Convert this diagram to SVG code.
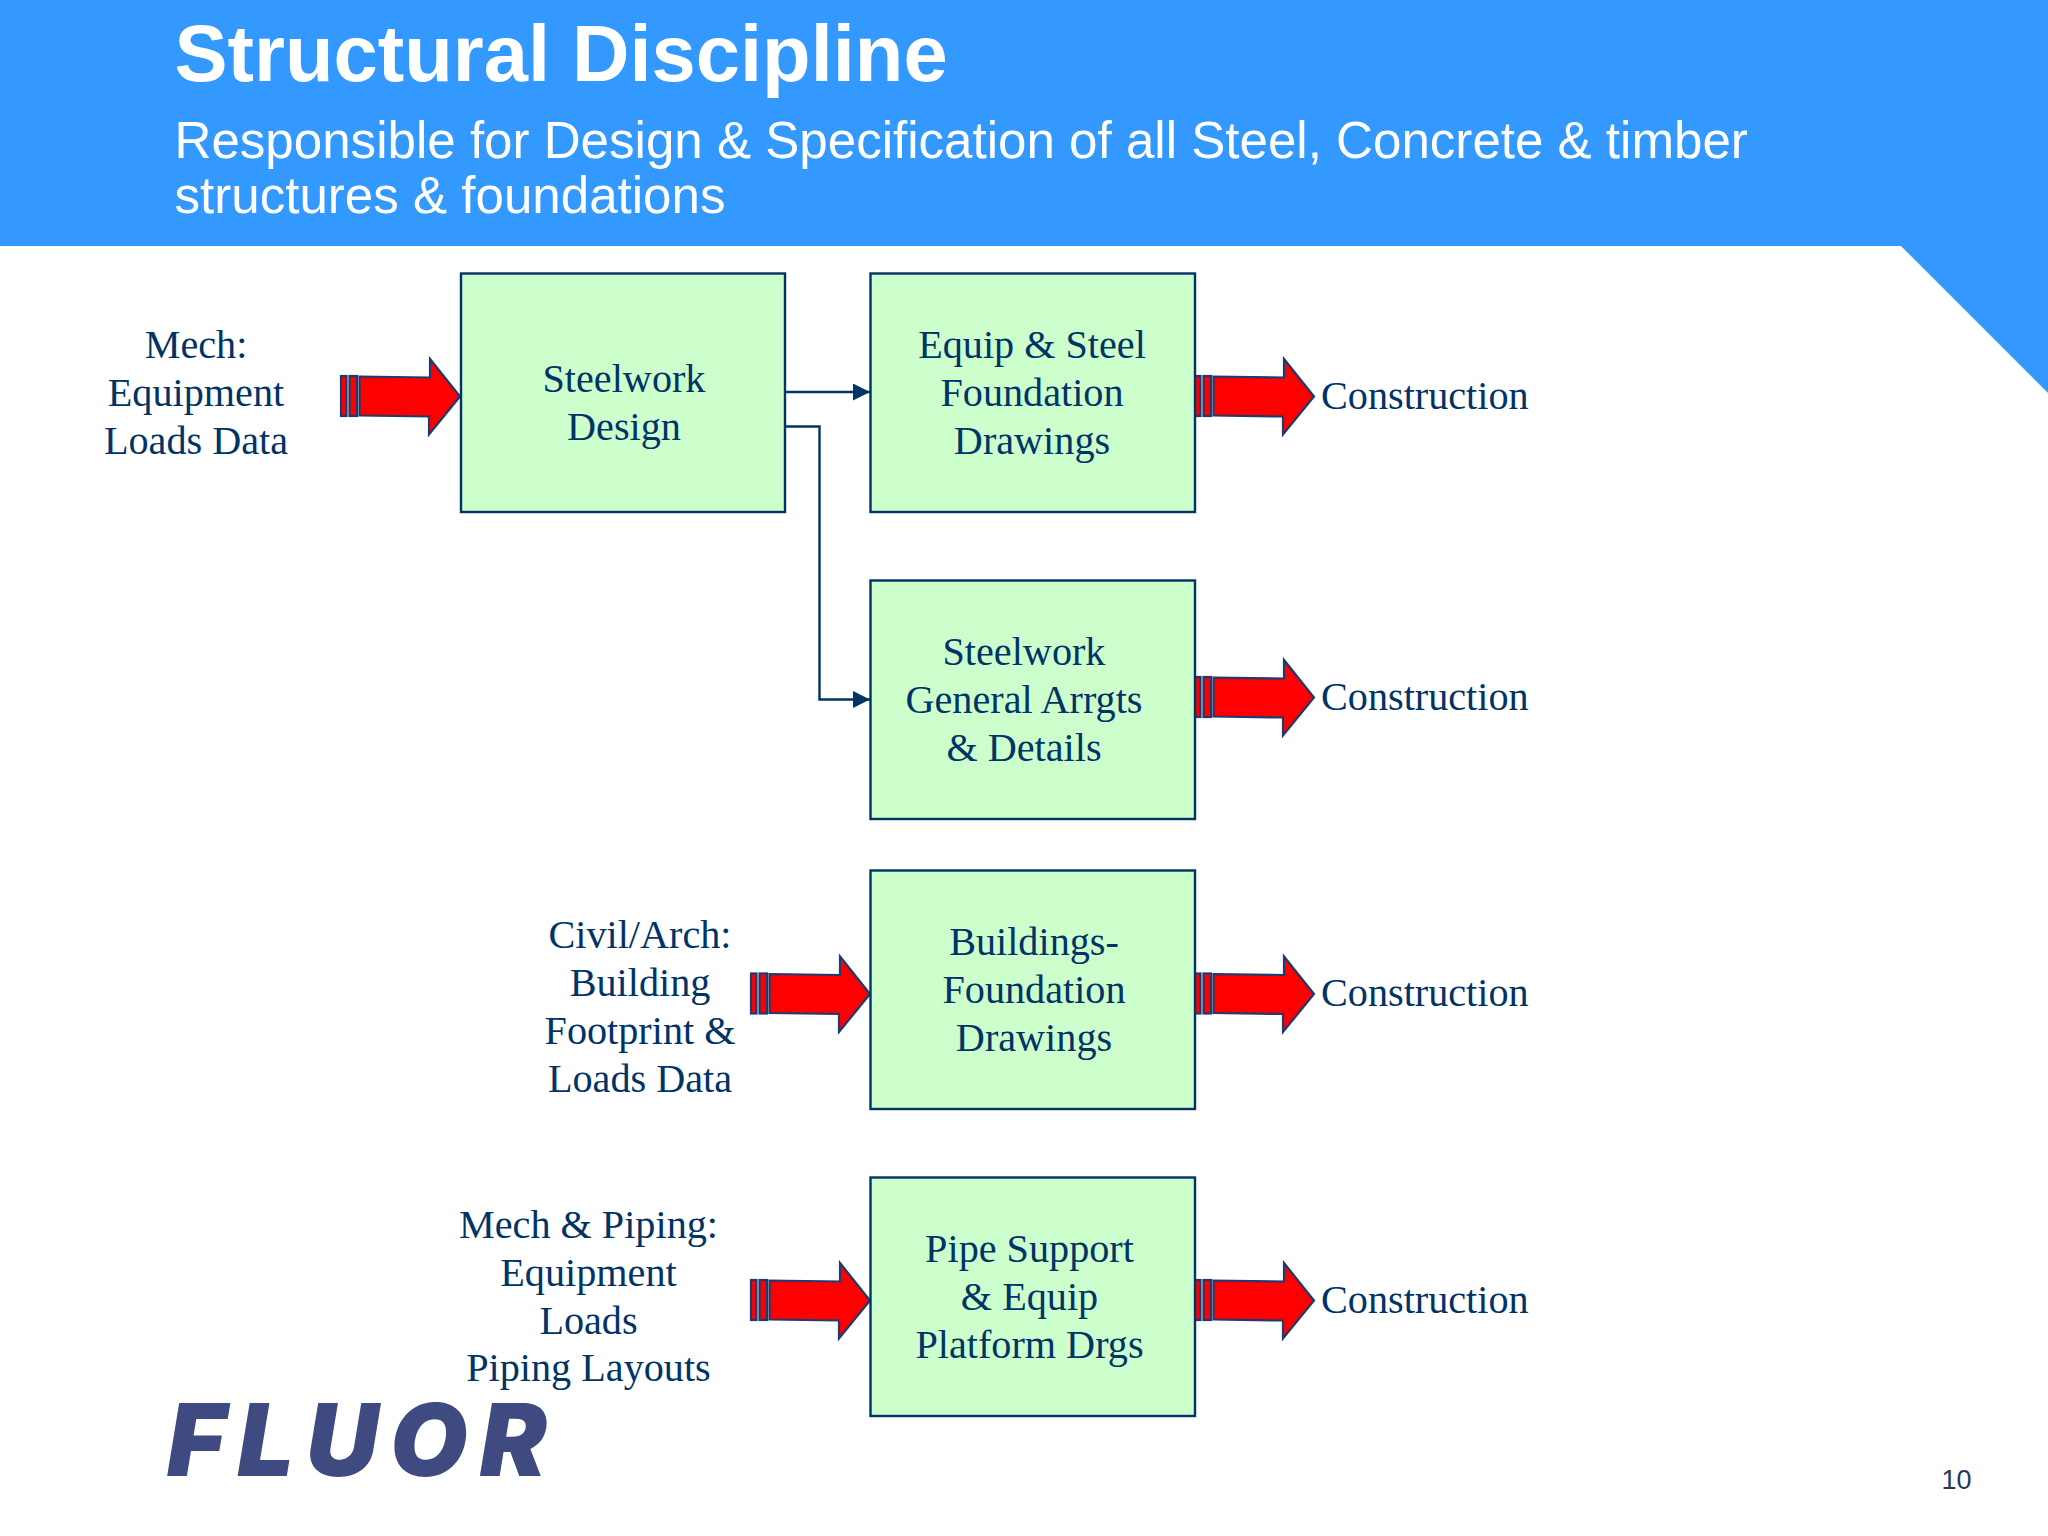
<svg xmlns="http://www.w3.org/2000/svg" xmlns:xlink="http://www.w3.org/1999/xlink" width="2048" height="1536" viewBox="0 0 2048 1536">
<style>
.box{fill:#ccffcc;stroke:#003366;stroke-width:2.4}
.t{font-family:"Liberation Serif","Times New Roman",serif;font-size:40.2px;fill:#003366;text-anchor:middle}
.c{font-family:"Liberation Serif","Times New Roman",serif;font-size:40.2px;fill:#003366}
.line{fill:none;stroke:#003366;stroke-width:2.4}
.ar{fill:#ff0000;stroke:#1f3a6e;stroke-width:2.2}
</style>
<defs>
<marker id="tip" markerUnits="userSpaceOnUse" markerWidth="17" markerHeight="17" refX="17" refY="8.5" orient="auto"><path d="M0,0L17,8.500L0,17Z" fill="#003366"/></marker>
<g id="block">
<rect class="ar" x="-119" y="-20.500" width="5.500" height="40"/>
<rect class="ar" x="-110.500" y="-20.500" width="7.500" height="40"/>
<path class="ar" d="M-100.500,-20L-30,-19V-37.500L0,0L-31,38V20L-100.500,19Z"/>
</g>
</defs>
<rect width="2048" height="1536" fill="#ffffff"/>
<path id="band" d="M0,0H2048V393L1901,246H0Z" fill="#3399ff"/>
<g id="title" font-family="'Liberation Sans',Arial,sans-serif" fill="#ffffff">
<text x="174.500" y="81" font-size="79.500" font-weight="700">Structural Discipline</text>
<text x="174.500" y="158" font-size="51.100">Responsible for Design &amp; Specification of all Steel, Concrete &amp; timber</text>
<text x="174.500" y="213" font-size="51.100">structures &amp; foundations</text>
</g>
<g id="connectors">
<path class="line" d="M785,392H870" marker-end="url(#tip)"/>
<path class="line" d="M785,426.500H819.500V699.500H870" marker-end="url(#tip)"/>
<use xlink:href="#block" href="#block" x="460" y="396.500"/>
<use xlink:href="#block" href="#block" x="1314" y="396.500"/>
<use xlink:href="#block" href="#block" x="1314" y="697.500"/>
<use xlink:href="#block" href="#block" x="870" y="994"/>
<use xlink:href="#block" href="#block" x="1314" y="994"/>
<use xlink:href="#block" href="#block" x="870" y="1300.500"/>
<use xlink:href="#block" href="#block" x="1314" y="1300.500"/>
</g>
<g id="input-mech"><text class="t"><tspan x="196" y="358">Mech:</tspan><tspan x="196" y="405.500">Equipment</tspan><tspan x="196" y="453.500">Loads Data</tspan></text></g>
<g id="input-civil"><text class="t"><tspan x="640" y="948">Civil/Arch:</tspan><tspan x="640" y="996">Building</tspan><tspan x="640" y="1044">Footprint &amp;</tspan><tspan x="640" y="1091.500">Loads Data</tspan></text></g>
<g id="input-piping"><text class="t"><tspan x="588.500" y="1238">Mech &amp; Piping:</tspan><tspan x="588.500" y="1286">Equipment</tspan><tspan x="588.500" y="1334">Loads</tspan><tspan x="588.500" y="1381">Piping Layouts</tspan></text></g>
<g id="steelwork-design"><rect class="box" x="461" y="273.500" width="324" height="238.500"/><text class="t"><tspan x="624" y="392">Steelwork</tspan><tspan x="624" y="439.500">Design</tspan></text></g>
<g id="equip-steel"><rect class="box" x="870.500" y="273.500" width="324.500" height="238.500"/><text class="t"><tspan x="1032" y="358">Equip &amp; Steel</tspan><tspan x="1032" y="405.500">Foundation</tspan><tspan x="1032" y="453.500">Drawings</tspan></text></g>
<g id="steelwork-ga"><rect class="box" x="870.500" y="580.500" width="324.500" height="238.500"/><text class="t"><tspan x="1024" y="665">Steelwork</tspan><tspan x="1024" y="713">General Arrgts</tspan><tspan x="1024" y="761">&amp; Details</tspan></text></g>
<g id="buildings"><rect class="box" x="870.500" y="870.500" width="324.500" height="238.500"/><text class="t"><tspan x="1034" y="955">Buildings-</tspan><tspan x="1034" y="1003">Foundation</tspan><tspan x="1034" y="1050.500">Drawings</tspan></text></g>
<g id="pipe-support"><rect class="box" x="870.500" y="1177.500" width="324.500" height="238.500"/><text class="t"><tspan x="1029.500" y="1262">Pipe Support</tspan><tspan x="1029.500" y="1310">&amp; Equip</tspan><tspan x="1029.500" y="1358">Platform Drgs</tspan></text></g>
<g id="output-1"><text class="c" x="1321" y="409">Construction</text></g>
<g id="output-2"><text class="c" x="1321" y="709.500">Construction</text></g>
<g id="output-3"><text class="c" x="1321" y="1006">Construction</text></g>
<g id="output-4"><text class="c" x="1321" y="1313">Construction</text></g>
<g id="logo"><text x="167" y="1476" font-family="Inter,Roboto,'Liberation Sans',sans-serif" font-weight="900" font-style="italic" font-size="100" letter-spacing="12" fill="#3f4a80">FLUOR</text></g>
<g id="page"><text x="1956.500" y="1488.500" font-family="'Liberation Sans',Arial,sans-serif" font-size="27" fill="#1f3a5f" text-anchor="middle">10</text></g>
</svg>
